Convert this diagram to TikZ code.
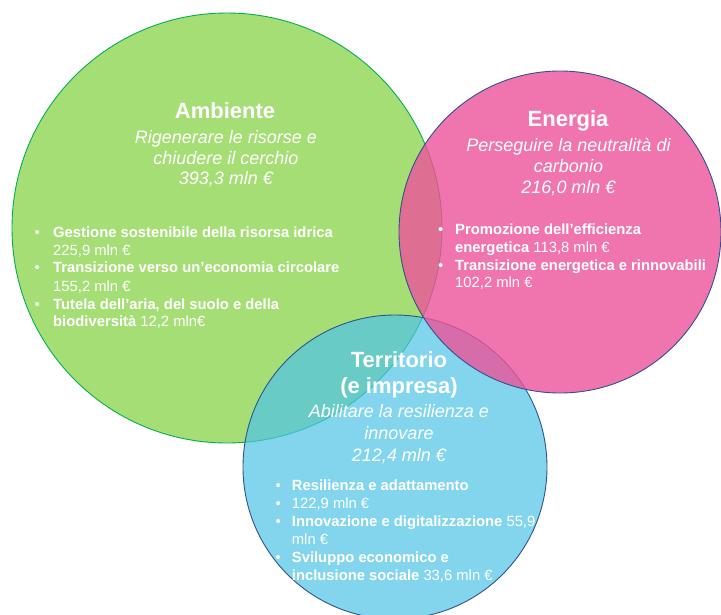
\documentclass[tikz,border=0pt]{standalone}
\usepackage{fontspec}
\setmainfont{Liberation Sans}
\definecolor{gfill}{RGB}{166,222,118}
\definecolor{gline}{RGB}{0,176,80}
\definecolor{pfill}{RGB}{236,83,154}
\definecolor{bfill}{RGB}{78,195,231}
\definecolor{navy}{RGB}{47,82,143}
\begin{document}
\begin{tikzpicture}[x=1pt,y=-1pt,
  venn/.style={circle,inner sep=0pt,outer sep=0pt,line width=0.9pt},
  ttl/.style={text=white,font=\fontsize{22}{26}\selectfont\bfseries,inner sep=0pt,anchor=base},
  sub/.style={text=white,font=\fontsize{18}{21}\selectfont\itshape,inner sep=0pt,anchor=base},
  itm/.style={text=white,font=\fontsize{14.8}{18}\selectfont,inner sep=0pt,anchor=base west},
  bul/.style={text=white,font=\fontsize{14.8}{18}\selectfont,inner sep=0pt,anchor=base west}]
\useasboundingbox (0,0) rectangle (721,614);
\begin{scope}
\clip (0,0) rectangle (721,614);
\node[venn,fill=gfill,draw=gline,minimum size=430pt] (amb) at (227,228) {};
\node[venn,fill=bfill,fill opacity=0.7,draw=navy,draw opacity=1,minimum size=304pt] (ter) at (395,467) {};
\node[venn,fill=pfill,fill opacity=0.8,draw=navy,draw opacity=1,minimum size=322pt] (ene) at (560,232) {};
\end{scope}
% Ambiente
\node[ttl] (a1) at (225,118) {Ambiente};
\node[sub] (a2) at (226,143.5) {Rigenerare le risorse e};
\node[sub] (a3) at (226,164) {chiudere il cerchio};
\node[sub] (a4) at (226,184.5) {393,3 mln €};
\node[bul] (ab1) at (34.5,237.3) {•};
\node[itm] (ai1) at (53,237.3) {\textbf{Gestione sostenibile della risorsa idrica}};
\node[itm] (ai2) at (53,255) {225,9 mln €};
\node[bul] (ab2) at (34.5,272.7) {•};
\node[itm] (ai3) at (53,272.7) {\textbf{Transizione verso un’economia circolare}};
\node[itm] (ai4) at (53,291) {155,2 mln €};
\node[bul] (ab3) at (34.5,309) {•};
\node[itm] (ai5) at (53,309) {\textbf{Tutela dell’aria, del suolo e della}};
\node[itm] (ai6) at (53,326.7) {\textbf{biodiversità} 12,2 mln€};
% Energia
\node[ttl] (e1) at (568,126.5) {Energia};
\node[sub] (e2) at (568.5,151) {Perseguire la neutralità di};
\node[sub] (e3) at (568.5,172) {carbonio};
\node[sub] (e4) at (568.5,193) {216,0 mln €};
\node[bul] (eb1) at (438,234.3) {•};
\node[itm] (ei1) at (455,234.3) {\textbf{Promozione dell’efficienza}};
\node[itm] (ei2) at (455,252.5) {\textbf{energetica} 113,8 mln €};
\node[bul] (eb2) at (438,270) {•};
\node[itm] (ei3) at (455,270) {\textbf{Transizione energetica e rinnovabili}};
\node[itm] (ei4) at (455,287.3) {102,2 mln €};
% Territorio
\node[ttl] (t1) at (399,367) {Territorio};
\node[ttl] (t2) at (399,393) {(e impresa)};
\node[sub] (t3) at (399,417.5) {Abilitare la resilienza e};
\node[sub] (t4) at (399,439.3) {innovare};
\node[sub] (t5) at (399,461.7) {212,4 mln €};
\node[bul] (tb1) at (275.5,490.7) {•};
\node[itm] (ti1) at (291.7,490.7) {\textbf{Resilienza e adattamento}};
\node[bul] (tb2) at (275.5,508.3) {•};
\node[itm] (ti2) at (291.7,508.3) {122,9 mln €};
\node[bul] (tb3) at (275.5,526.7) {•};
\node[itm] (ti3) at (291.7,526.7) {\textbf{Innovazione e digitalizzazione} 55,9};
\node[itm] (ti4) at (291.7,544) {mln €};
\node[bul] (tb4) at (275.5,562.7) {•};
\node[itm] (ti5) at (291.7,562.7) {\textbf{Sviluppo economico e}};
\node[itm] (ti6) at (291.7,580.7) {\textbf{inclusione sociale} 33,6 mln €};
\end{tikzpicture}
\end{document}
